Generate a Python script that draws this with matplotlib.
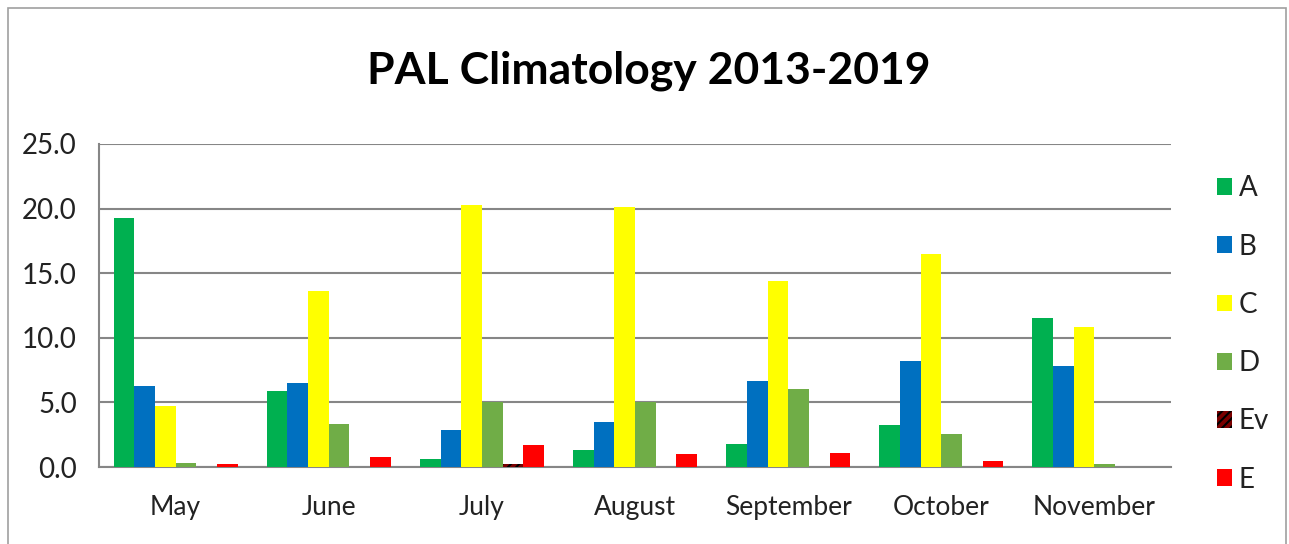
import matplotlib
matplotlib.use("Agg")
import matplotlib.pyplot as plt
import numpy as np
from matplotlib.patches import Rectangle

plt.rcParams['font.family'] = ['Lato', 'DejaVu Sans']
plt.rcParams['hatch.color'] = 'black'
plt.rcParams['hatch.linewidth'] = 1.5

months = ['May', 'June', 'July', 'August', 'September', 'October', 'November']
series_names = ['A', 'B', 'C', 'D', 'Ev', 'E']
A = [19.25, 5.9, 0.6, 1.35, 1.8, 3.25, 11.55]
B = [6.25, 6.5, 2.9, 3.5, 6.65, 8.2, 7.8]
C = [4.7, 13.6, 20.3, 20.1, 14.4, 16.5, 10.85]
D = [0.35, 3.3, 5.0, 5.0, 6.0, 2.55, 0.25]
Ev = [0.0, 0.0, 0.25, 0.0, 0.0, 0.0, 0.0]
E = [0.25, 0.75, 1.7, 1.0, 1.1, 0.5, 0.0]
yticks = [0.0, 5.0, 10.0, 15.0, 20.0, 25.0]

colors = ['#00B050', '#0070C0', '#FFFF00', '#70AD47', '#7A0000', '#FF0000']
hatches = [None, None, None, None, '////', None]

fig = plt.figure(figsize=(12.89, 5.44), dpi=100)
# outer border
fig.patches.append(Rectangle((0.006, -0.01), 0.992, 0.995, transform=fig.transFigure,
                             fill=False, edgecolor='#A0A0A0', linewidth=1.2))

ax = fig.add_axes([0.0768, 0.1415, 0.9085 - 0.0768, 0.7353 - 0.1415])
x = np.arange(len(months))
bw = 0.135
data = [A, B, C, D, Ev, E]
handles = []
for i, (vals, name) in enumerate(zip(data, series_names)):
    offs = (i - 2.5) * bw
    bars = ax.bar(x + offs, vals, width=bw, color=colors[i], label=name,
                  hatch=hatches[i], linewidth=0, zorder=3,
                  edgecolor='black' if hatches[i] else colors[i])
    handles.append(bars)

ax.set_xlim(-0.5, len(months) - 0.5)
ax.set_ylim(0, 25)
ax.set_yticks(yticks)
ax.set_yticklabels([f'{v:.1f}' for v in yticks], fontsize=20, color='#222222')
ax.set_xticks(x)
ax.set_xticklabels(months, fontsize=19, color='#222222')
ax.tick_params(axis='both', length=0)
ax.tick_params(axis='y', pad=16)
ax.tick_params(axis='x', pad=20)
ax.grid(axis='y', color='#868686', linewidth=1.5, zorder=0)
for s in ['top', 'right']:
    ax.spines[s].set_visible(False)
for s in ['left', 'bottom']:
    ax.spines[s].set_color('#868686')
    ax.spines[s].set_linewidth(1.5)

fig.text(0.503, 0.870, 'PAL Climatology 2013-2019', ha='center', va='center',
         fontsize=32, fontweight='bold', color='black')

leg = fig.legend(handles=handles, labels=series_names, loc='upper left',
                 bbox_to_anchor=(0.933, 0.703), frameon=False, fontsize=20,
                 handlelength=0.55, handleheight=0.55, handletextpad=0.25,
                 labelspacing=1.16, borderpad=0)
for t in leg.get_texts():
    t.set_color('#222222')

fig.savefig('out.png', dpi=100)
